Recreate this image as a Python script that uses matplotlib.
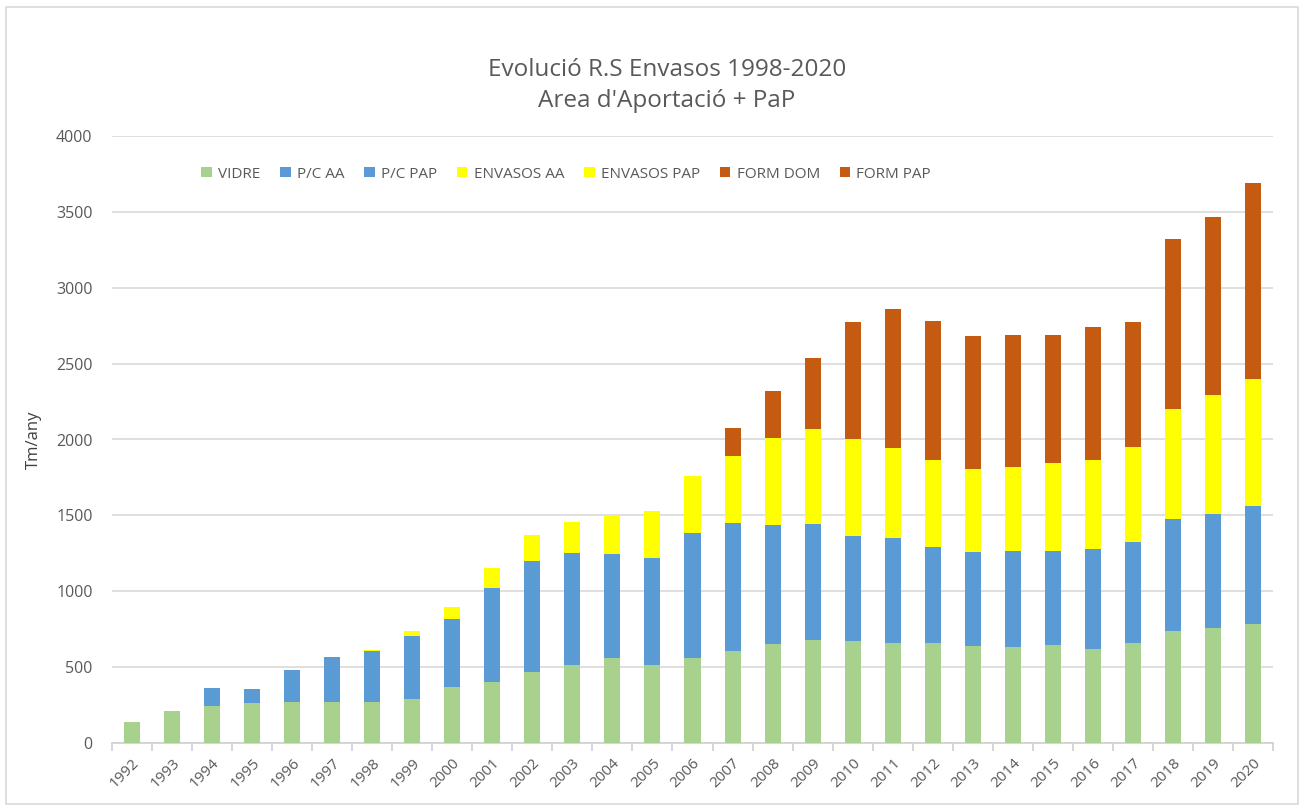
import matplotlib
matplotlib.use("Agg")
import matplotlib.pyplot as plt
from matplotlib.patches import Rectangle
import numpy as np

years = [str(y) for y in range(1992, 2021)]
# cumulative tops
vidre = [140, 209, 246, 265, 272, 272, 272, 291, 368, 405, 466, 511, 561, 511, 561,
         603, 651, 680, 675, 656, 662, 638, 630, 648, 617, 656, 736, 759, 781]
pc_top = [140, 209, 365, 355, 479, 566, 603, 704, 815, 1024, 1199, 1249, 1244, 1220, 1381,
          1450, 1437, 1442, 1363, 1349, 1289, 1257, 1262, 1262, 1281, 1326, 1474, 1511, 1561]
env_top = [140, 209, 365, 355, 479, 566, 611, 741, 897, 1151, 1368, 1455, 1500, 1527, 1757,
           1894, 2011, 2069, 2003, 1945, 1868, 1807, 1818, 1842, 1868, 1950, 2201, 2291, 2397]
form_top = [140, 209, 365, 355, 479, 566, 611, 741, 897, 1151, 1368, 1455, 1500, 1527, 1757,
            2074, 2318, 2537, 2773, 2863, 2781, 2680, 2686, 2686, 2741, 2773, 3323, 3466, 3688]

pc_aa = list(np.array(pc_top) - np.array(vidre))
pc_pap = [0] * len(years)
env_aa = list(np.array(env_top) - np.array(pc_top))
env_pap = [0] * len(years)
form_dom = list(np.array(form_top) - np.array(env_top))
form_pap = [0] * len(years)

series = [
    ("VIDRE", vidre, "#a9d18e"),
    ("P/C AA", pc_aa, "#5b9bd5"),
    ("P/C PAP", pc_pap, "#5b9bd5"),
    ("ENVASOS AA", env_aa, "#ffff00"),
    ("ENVASOS PAP", env_pap, "#ffff00"),
    ("FORM DOM", form_dom, "#c55a11"),
    ("FORM PAP", form_pap, "#c55a11"),
]

plt.rcParams['font.family'] = ['Open Sans', 'DejaVu Sans']
txt = "#595959"

fig = plt.figure(figsize=(13.04, 8.05), dpi=100)
fig.patches.append(Rectangle((6/1304, 1/805), 1292/1304, 797/805, transform=fig.transFigure,
                             fill=False, edgecolor="#d9d9d9", linewidth=1.2))
ax = fig.add_axes([112/1304, 62/805, 1161/1304, 607/805])

x = np.arange(len(years))
bottom = np.zeros(len(years))
handles = []
for name, vals, col in series:
    v = np.array(vals, dtype=float)
    b = ax.bar(x, v, 0.4, bottom=bottom, color=col, label=name, zorder=3)
    handles.append(b)
    bottom += v

ax.set_xlim(-0.5, len(years) - 0.5)
ax.set_ylim(0, 4000)
ax.set_yticks(range(0, 4001, 500))
ax.yaxis.grid(True, color="#d9d9d9", linewidth=1.2, zorder=0)
ax.set_axisbelow(True)
for s in ["top", "right", "left"]:
    ax.spines[s].set_visible(False)
ax.spines["bottom"].set_color("#d0d0d0")
ax.spines["bottom"].set_linewidth(1.2)
ax.tick_params(axis="y", length=0, labelsize=11.5, labelcolor=txt, pad=14)
ax.set_xticks(x)
ax.set_xticklabels(years, rotation=45, ha="right", rotation_mode="anchor",
                   fontsize=11, color=txt)
ax.tick_params(axis="x", length=0, pad=9)
ax.set_xticks(np.arange(-0.5, len(years)), minor=True)
ax.tick_params(axis="x", which="minor", length=6, color="#d0d0d0", width=1.2)

ax.set_ylabel("Tm/any", fontsize=12, color="#404040", labelpad=10)

fig.text(667/1304, 1 - 70/805, "Evolució R.S Envasos 1998-2020", ha="center", va="center",
         fontsize=17.5, color=txt)
fig.text(667/1304, 1 - 101/805, "Area d'Aportació + PaP", ha="center", va="center",
         fontsize=17.5, color=txt)

leg = ax.legend(handles=handles, loc="center", bbox_to_anchor=((566 - 112)/1161, 1 - 38/607),
                ncol=7, frameon=False, fontsize=11, handlelength=0.7, handleheight=0.7,
                handletextpad=0.4, columnspacing=1.3, labelcolor=txt)

fig.savefig("out.png", dpi=100)
